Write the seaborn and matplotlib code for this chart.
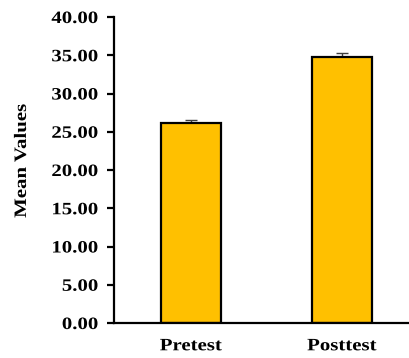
import matplotlib
matplotlib.use("Agg")
import numpy as np
import matplotlib.pyplot as plt
from matplotlib.patheffects import AbstractPathEffect
from matplotlib.transforms import Affine2D
import seaborn as sns
import pandas as pd

categories = ["Pretest", "Posttest"]
means = [26.1, 34.77]
errors = [0.42, 0.48]
yticks = [0, 5, 10, 15, 20, 25, 30, 35, 40]

sns.set_style("white")
plt.rcParams['font.family'] = ['Liberation Serif', 'DejaVu Serif']
plt.rcParams['font.weight'] = 'bold'
plt.rcParams['text.color'] = 'black'
plt.rcParams['axes.labelcolor'] = 'black'
plt.rcParams['xtick.color'] = 'black'
plt.rcParams['ytick.color'] = 'black'


class Stretch(AbstractPathEffect):
    """Widen text along its baseline, keeping an anchor point fixed."""
    def __init__(self, sx=1.2, anchor="left"):
        super().__init__()
        self.sx = sx
        self.anchor = anchor

    def draw_path(self, renderer, gc, tpath, affine, rgbFace=None):
        ext = tpath.get_extents()
        if self.anchor == "right":
            ax_ = ext.x1
        elif self.anchor == "center":
            ax_ = 0.5 * (ext.x0 + ext.x1)
        else:
            ax_ = ext.x0
        px, py = affine.transform((ax_, 0.0))
        m = affine.get_matrix()
        ang = np.arctan2(m[1, 0], m[0, 0])
        extra = (Affine2D().translate(-px, -py).rotate(-ang)
                 .scale(self.sx, 1.0).rotate(ang).translate(px, py))
        renderer.draw_path(gc, tpath, affine + extra, rgbFace)


FS = 12.5
SX = 1.2

df = pd.DataFrame({"Test": categories, "Mean": means})

fig = plt.figure(figsize=(4.10, 3.58), dpi=100)
ax = fig.add_axes([114/410, 1 - 323/358, 1 - 114/410, (323 - 17)/358])

sns.barplot(data=df, x="Test", y="Mean", order=categories, color="#FFC000",
            saturation=1, width=0.4, edgecolor="black", linewidth=1.6,
            errorbar=None, ax=ax, zorder=2)
ax.errorbar(range(len(categories)), means, yerr=[[0]*len(errors), errors],
            fmt="none", ecolor="#404040", elinewidth=1.0, capsize=4,
            capthick=1.0, zorder=1)

ax.set_ylim(0, 40)
ax.set_xlim(-0.51, 1.45)
ax.set_yticks(yticks)
ax.set_yticklabels([f"{v:.2f}" for v in yticks], fontsize=FS, fontweight='bold', color='black')
ax.set_xticks(range(len(categories)))
ax.set_xticklabels(categories, fontsize=FS, fontweight='bold', color='black')
ax.tick_params(axis='y', direction='out', length=5, width=1.6, pad=6.5, left=True, color='black')
ax.tick_params(axis='x', length=0, pad=11)
ax.set_xlabel("")
ax.set_ylabel("Mean Values", fontsize=FS, fontweight='bold', color='black')
ax.yaxis.set_label_coords(-0.284, 0.53)

for t in ax.get_yticklabels():
    t.set_path_effects([Stretch(SX, "right")])
for t in ax.get_xticklabels():
    t.set_path_effects([Stretch(SX, "center")])
ax.yaxis.label.set_path_effects([Stretch(SX, "center")])

for s in ["top", "right"]:
    ax.spines[s].set_visible(False)
for s in ["left", "bottom"]:
    ax.spines[s].set_linewidth(1.6)
    ax.spines[s].set_color("black")

fig.savefig("out.png", dpi=100)
